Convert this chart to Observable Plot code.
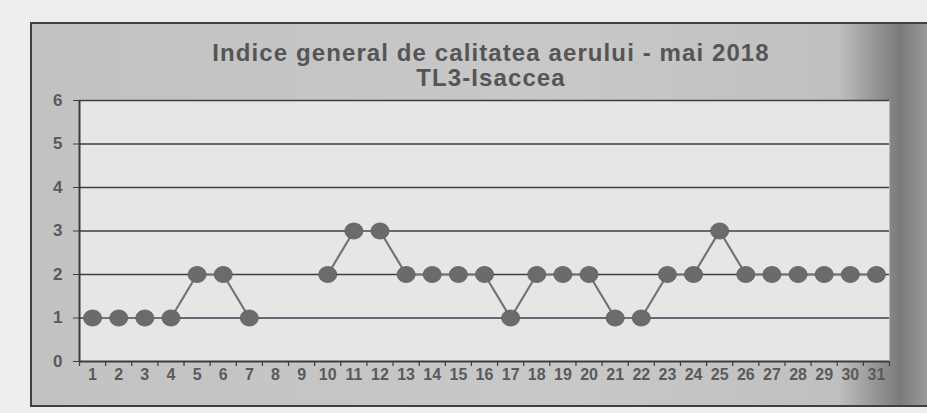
<!DOCTYPE html>
<html>
<head>
<meta charset="utf-8">
<script src="https://cdn.jsdelivr.net/npm/d3@7"></script>
<script src="https://cdn.jsdelivr.net/npm/@observablehq/plot@0.6"></script>
<style>
  html, body { margin: 0; padding: 0; background: #eeeeee; }
  #wrap { position: relative; width: 927px; height: 413px; overflow: hidden; }
  #frame { position: absolute; left: 30px; top: 22px; width: 895px; height: 381px;
    border-left: 2px solid #3e3e48; border-top: 2px solid #3e3e48; border-bottom: 2px solid #3e3e48;
    background: linear-gradient(90deg, #c2c2c2 0%, #c8c8c8 60%, #c0c0c0 90%, #7a7a7a 97%, #9a9a9a 100%); }
  #title { position: absolute; left: 0; top: 40px; width: 982px; text-align: center;
    font-family: "Liberation Sans", Arial, sans-serif; font-weight: bold; font-size: 24px;
    letter-spacing: 1.1px; line-height: 25px; color: #555; }
  #chart { position: absolute; left: 0; top: 0; }
  #chart svg text { font-weight: bold; }
</style>
</head>
<body>
<div id="wrap">
  <div id="frame"></div>
  <div id="title">Indice general de calitatea aerului - mai 2018<br>TL3-Isaccea</div>
  <div id="chart"></div>
</div>
<script>
const days = [1,2,3,4,5,6,7,8,9,10,11,12,13,14,15,16,17,18,19,20,21,22,23,24,25,26,27,28,29,30,31];
const values = [1,1,1,1,2,2,1,null,null,2,3,3,2,2,2,2,1,2,2,2,1,1,2,2,3,2,2,2,2,2,2];
const yTicks = [0,1,2,3,4,5,6];

const data = days.map((d, i) => ({day: d, v: values[i] == null ? NaN : values[i]}));
const present = data.filter(d => !isNaN(d.v));
const bounds = [days[0] - 0.5, ...days.map(d => d + 0.5)];

const k = 0.5523;
const ellipse = {
  draw(ctx) {
    const rx = 9, ry = 8;
    ctx.moveTo(rx, 0);
    ctx.bezierCurveTo(rx, ry * k, rx * k, ry, 0, ry);
    ctx.bezierCurveTo(-rx * k, ry, -rx, ry * k, -rx, 0);
    ctx.bezierCurveTo(-rx, -ry * k, -rx * k, -ry, 0, -ry);
    ctx.bezierCurveTo(rx * k, -ry, rx, -ry * k, rx, 0);
    ctx.closePath();
  }
};

const chart = Plot.plot({
  width: 927,
  height: 413,
  marginTop: 100,
  marginLeft: 79,
  marginRight: 38,
  marginBottom: 52,
  style: {background: "transparent", fontFamily: "Liberation Sans, Arial, sans-serif"},
  x: {type: "linear", domain: [bounds[0], bounds[bounds.length - 1]]},
  y: {domain: [0, 6]},
  marks: [
    Plot.frame({fill: "#e6e6e6", stroke: null}),
    Plot.ruleY(yTicks.filter(t => t > 0), {stroke: "#3c3c50", strokeWidth: 1.3}),
    Plot.ruleY([0], {stroke: "#3a3a44", strokeWidth: 2}),
    Plot.ruleX([bounds[0]], {stroke: "#3a3a44", strokeWidth: 2}),
    Plot.ruleX(bounds, {y1: 0, y2: 0, insetBottom: -5, stroke: "#3a3a44", strokeWidth: 1.2}),
    Plot.axisY({ticks: yTicks, tickSize: 6, tickPadding: 11, fontSize: 17, color: "#5a5a5a", stroke: "#3a3a44", label: null, tickFormat: d => String(d)}),
    Plot.axisX({ticks: days, tickSize: 0, tickPadding: 7, fontSize: 16, color: "#5a5a5a", label: null, tickFormat: d => String(d)}),
    Plot.line(data, {x: "day", y: "v", stroke: "#737373", strokeWidth: 2.2}),
    Plot.dot(present, {x: "day", y: "v", symbol: ellipse, fill: "#6b6b6b", stroke: "#5e5e5e", strokeWidth: 0.8})
  ]
});
document.getElementById("chart").appendChild(chart);
</script>
</body>
</html>
